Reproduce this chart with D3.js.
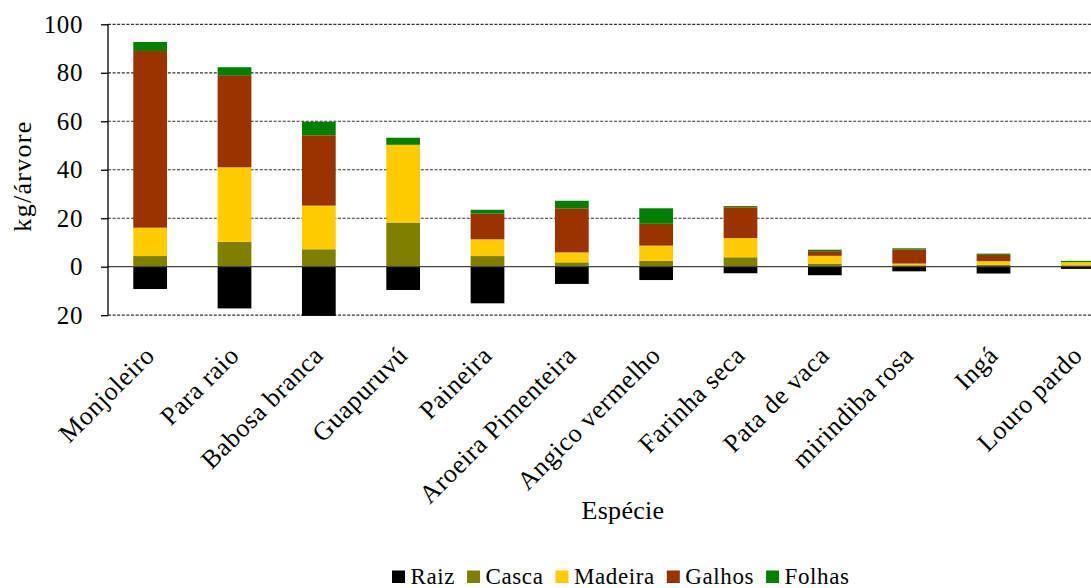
<!DOCTYPE html>
<html>
<head>
<meta charset="utf-8">
<script src="https://cdn.jsdelivr.net/npm/d3@7"></script>
<style>
  html, body { margin: 0; padding: 0; background: #fff; }
</style>
</head>
<body>
<svg id="chart" width="1091" height="588"></svg>
<script>
// Biomass per tree (kg/árvore) by species and tree compartment
const species = ["Monjoleiro", "Para raio", "Babosa branca", "Guapuruvú", "Paineira",
  "Aroeira Pimenteira", "Angico vermelho", "Farinha seca", "Pata de vaca",
  "mirindiba rosa", "Ingá", "Louro pardo"];
const raiz    = [-9.2, -17.2, -20.3, -9.6, -15.1, -7.1, -5.5, -2.7, -3.5, -1.9, -2.8, -0.9];
const casca   = [4.4, 10.3, 7.2, 18.2, 4.4, 1.8, 2.4, 3.9, 1.3, 0.6, 0.8, 0.6];
const madeira = [11.7, 30.7, 18.0, 32.1, 6.9, 4.1, 6.3, 7.9, 3.2, 0.7, 1.5, 1.3];
const galhos  = [72.9, 38.0, 29.0, 0.0, 10.6, 18.2, 9.0, 12.7, 1.9, 5.8, 2.6, 0.0];
const folhas  = [3.7, 3.3, 5.6, 2.9, 1.6, 3.1, 6.4, 0.5, 0.6, 0.5, 0.5, 0.5];

const seriesNames = ["Raiz", "Casca", "Madeira", "Galhos", "Folhas"];
const seriesColors = ["#000000", "#808000", "#FFCC00", "#993300", "#008000"];

const yTickValues = [-20, 0, 20, 40, 60, 80, 100];
const yTickLabels = ["20", "0", "20", "40", "60", "80", "100"];

const yTitle = "kg/árvore";
const xTitle = "Espécie";

const FONT = "Liberation Serif";

// Build table rows for the stack layout
const columns = [raiz, casca, madeira, galhos, folhas];
const rows = species.map((s, i) => {
  const r = { species: s };
  seriesNames.forEach((k, j) => { r[k] = columns[j][i]; });
  return r;
});

const svg = d3.select("#chart");

const plotLeft = 108, plotRight = 1120, plotTop = 24.3, plotBottom = 315.2;

const x = d3.scaleBand()
  .domain(species)
  .range([plotLeft, plotRight])
  .paddingInner(0.6)
  .paddingOuter(0.3);

const y = d3.scaleLinear()
  .domain([-20, 100])
  .range([plotBottom, plotTop]);

// Dashed gridlines
svg.append("g")
  .selectAll("line")
  .data(yTickValues.filter(v => v !== 0))
  .join("line")
  .attr("x1", plotLeft).attr("x2", 1091)
  .attr("y1", d => y(d)).attr("y2", d => y(d))
  .attr("stroke", "#333")
  .attr("stroke-width", 1.2)
  .attr("stroke-dasharray", "3,1.6");

// Stacked bars (Raiz below zero, others above)
const stacked = d3.stack()
  .keys(seriesNames)
  .offset(d3.stackOffsetDiverging)(rows);

svg.append("g")
  .selectAll("g")
  .data(stacked)
  .join("g")
  .attr("fill", (d, i) => seriesColors[i])
  .selectAll("rect")
  .data(d => d)
  .join("rect")
  .attr("x", d => x(d.data.species))
  .attr("width", x.bandwidth())
  .attr("y", d => y(Math.max(d[0], d[1])))
  .attr("height", d => Math.abs(y(d[0]) - y(d[1])));

// Zero line
svg.append("line")
  .attr("x1", plotLeft).attr("x2", 1091)
  .attr("y1", y(0)).attr("y2", y(0))
  .attr("stroke", "#444")
  .attr("stroke-width", 1.3);

// Y axis
const yAxis = d3.axisLeft(y)
  .tickValues(yTickValues)
  .tickFormat((d, i) => yTickLabels[i])
  .tickSize(7)
  .tickPadding(18);

const gy = svg.append("g")
  .attr("transform", `translate(${plotLeft},0)`)
  .call(yAxis);
gy.attr("font-family", FONT).attr("font-size", 25);
gy.select(".domain").attr("stroke", "#000").attr("stroke-width", 1.3).attr("d", `M0,${plotTop}V${plotBottom}`);
gy.selectAll(".tick line").attr("stroke", "#000").attr("stroke-width", 1.3);
gy.selectAll(".tick text")
  .attr("fill", "#000")
  .attr("font-family", FONT)
  .attr("letter-spacing", 0.6);

// Category labels, rotated
svg.append("g")
  .selectAll("text")
  .data(species)
  .join("text")
  .attr("transform", d => `translate(${x(d) + x.bandwidth() / 2 + 6},357) rotate(-45)`)
  .attr("text-anchor", "end")
  .attr("font-family", FONT)
  .attr("font-size", 26)
  .attr("letter-spacing", 0.6)
  .attr("fill", "#000")
  .text(d => d);

// Axis titles
svg.append("text")
  .attr("transform", "translate(31,176) rotate(-90)")
  .attr("text-anchor", "middle")
  .attr("font-family", FONT)
  .attr("font-size", 26)
  .attr("letter-spacing", 1.3)
  .text(yTitle);

svg.append("text")
  .attr("x", 623).attr("y", 519)
  .attr("text-anchor", "middle")
  .attr("font-family", FONT)
  .attr("font-size", 26)
  .attr("letter-spacing", 0.3)
  .text(xTitle);

// Legend
const legend = svg.append("g");
let lx = 392;
seriesNames.forEach((name, i) => {
  legend.append("rect")
    .attr("x", lx).attr("y", 570.5)
    .attr("width", 13).attr("height", 12.5)
    .attr("fill", seriesColors[i]);
  const t = legend.append("text")
    .attr("x", lx + 18.5).attr("y", 584)
    .attr("font-family", FONT)
    .attr("font-size", 23)
    .attr("letter-spacing", 0.6)
    .text(name);
  lx += 18.5 + t.node().getComputedTextLength() + 12;
});
</script>
</body>
</html>
